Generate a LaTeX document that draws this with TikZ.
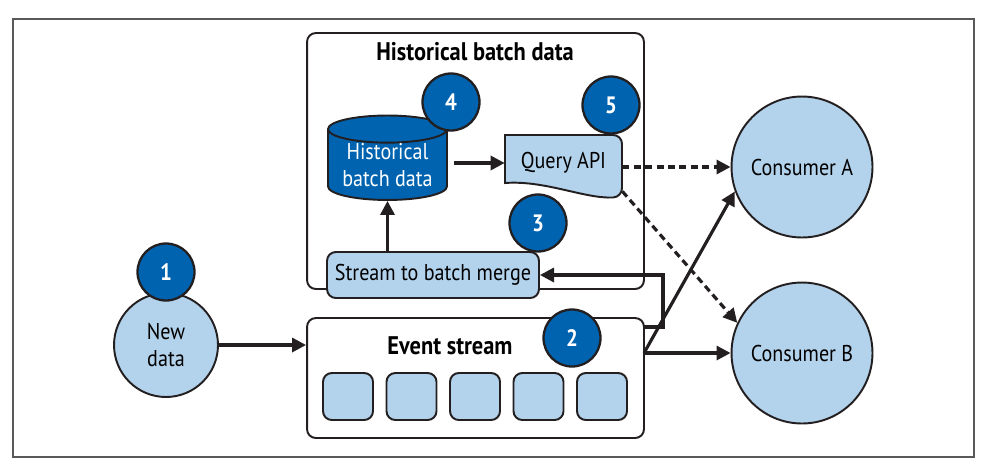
\documentclass[tikz,border=0pt]{standalone}
\usepackage{fontspec}
\setmainfont{PT Sans}[FakeStretch=0.88]
\usetikzlibrary{
	shapes.geometric,
	arrows.meta,
	calc
}
\definecolor{paleblue}{RGB}{179,210,235}
\definecolor{deepblue}{RGB}{0,99,175}
\definecolor{ink}{RGB}{35,31,32}
\tikzset{
	box/.style={
		draw=ink,
		line width=1.1pt,
		rounded corners=5pt
	},
	bluebox/.style={
		box,
		fill=paleblue,
		font=\fontsize{13}{15}\selectfont
	},
	heading/.style={
		font=\bfseries\fontsize{14.5}{16}\selectfont
	},
	bubble/.style={
		circle,
		draw=ink,
		line width=1.1pt,
		fill=paleblue,
		align=center,
		inner sep=0pt,
		font=\fontsize{13}{15}\selectfont
	},
	badge/.style={
		circle,
		draw=ink,
		line width=1.3pt,
		fill=deepblue,
		text=white,
		inner sep=0pt,
		minimum size=1.14cm,
		font=\bfseries\fontsize{13.5}{14}\selectfont
	},
	flow/.style={
		draw=ink,
		line width=1.8pt,
		-{Triangle[length=8pt,width=8pt]}
	},
	query/.style={
		flow,
		dash pattern=on 4pt off 2.5pt
	}
}

\begin{document}
\begin{tikzpicture}[x=0.02cm, y=-0.02cm]
	\useasboundingbox (0,0) rectangle (986,471);
	\draw[gray!70!black, line width=0.9pt] (13,19) rectangle (974,457);

	%%%%%%%% HISTORICAL BATCH DATA
	\node[box, minimum width=6.74cm, minimum height=5.12cm] (hist) at (475.5,161) {};
	\node[heading] (histtitle) at (475,52) {Historical batch data};
	\node[cylinder, shape border rotate=90, aspect=0.3,
		draw=ink, line width=1.1pt,
		cylinder uses custom fill, cylinder body fill=deepblue, cylinder end fill=deepblue,
		minimum width=2.38cm, minimum height=1.64cm, inner sep=0pt,
		text=white, align=center, font=\fontsize{13}{15}\selectfont] (store) at (387.5,165) {Historical\\batch data};
	\filldraw[box, fill=paleblue, sharp corners] (505,135) [rounded corners=5pt] -- (622,135) -- (622,197)
		[sharp corners] .. controls (585,199) and (545,180) .. (505,183) -- cycle;
	\node[minimum width=2.34cm, minimum height=1.12cm, inner sep=0pt,
		font=\fontsize{13}{15}\selectfont] (api) at (563.5,163) {Query API};
	\node[bluebox, minimum width=4.24cm, minimum height=0.92cm] (merge) at (433,275) {Stream to batch merge};

	%%%%%%%% EVENT STREAM
	\node[box, minimum width=6.74cm, minimum height=2.4cm] (stream) at (475.5,378) {};
	\node[heading] (streamtitle) at (450,346) {Event stream};
	\foreach \i in {0,...,4}
		\node[bluebox, minimum width=1cm, minimum height=0.94cm] (slot\i) at (348+63.5*\i,396.5) {};

	%%%%%%%% PRODUCER AND CONSUMERS
	\node[bubble, minimum size=2.08cm] (new) at (166,345) {New\\data};
	\node[bubble, minimum size=2.82cm] (consA) at (802,167) {Consumer A};
	\node[bubble, minimum size=2.82cm] (consB) at (802,353) {Consumer B};

	%%%%%%%% CONNECTORS
	\coordinate (tap) at (644,327);
	\coordinate (fork) at (644,353);
	\draw[flow] (new) -- (new -| stream.west);
	\draw[flow] (merge.north -| store) -- (store);
	\draw[flow] ($(store.east |- api.west)+(6,0)$) -- (api.west);
	\draw[flow] (tap) -- ++(19,0) |- (merge.east);
	\draw[flow] (fork) -- (consB);
	\draw[flow] (fork) -- (consA.200);
	\draw[query] (api.east |- consA) -- (consA);
	\draw[query] (api.south east) -- (consB.155);

	%%%%%%%% BADGES
	\node[badge] (b1) at (166,272) {1};
	\node[badge] (b2) at (572,338) {2};
	\node[badge] (b3) at (538,223) {3};
	\node[badge] (b4) at (451,102) {4};
	\node[badge] (b5) at (611,105) {5};
\end{tikzpicture}
\end{document}
